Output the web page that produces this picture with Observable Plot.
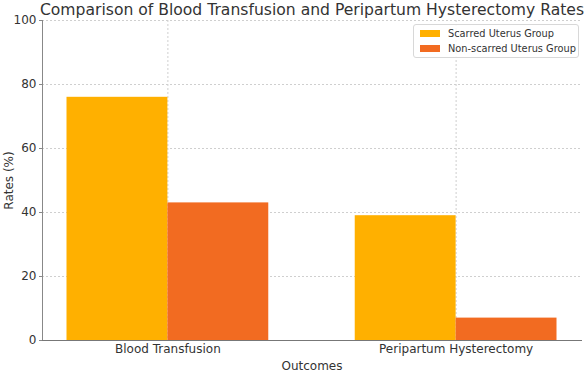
<!DOCTYPE html>
<html>
<head>
<meta charset="utf-8">
<script src="https://cdn.jsdelivr.net/npm/d3@7"></script>
<script src="https://cdn.jsdelivr.net/npm/@observablehq/plot@0.6"></script>
<style>
  html, body { margin: 0; padding: 0; background: #fff; }
  #wrap { position: relative; width: 584px; height: 372px; font-family: "DejaVu Sans", sans-serif; }
  #legend { position: absolute; left: 413px; top: 24px; width: 164px; height: 32px; border: 1px solid #d8d8d8; border-radius: 3px; background: rgba(255,255,255,0.85); font-size: 9.8px; color: #333; }
  .item { position: absolute; left: 6px; display: flex; align-items: center; white-space: nowrap; }
  .sw { width: 20px; height: 7px; margin-right: 8px; }
</style>
</head>
<body>
<div id="wrap"></div>
<script>
const outcomes = ["Blood Transfusion", "Peripartum Hysterectomy"];
const groups = ["Scarred Uterus Group", "Non-scarred Uterus Group"];
const scarred = [76, 39];
const nonScarred = [43, 7];
const colors = ["#ffb000", "#f26b21"];
const yTicks = [0, 20, 40, 60, 80, 100];
const title = "Comparison of Blood Transfusion and Peripartum Hysterectomy Rates";

const barW = 0.35;
const rows = [];
outcomes.forEach((o, i) => {
  rows.push({outcome: o, group: groups[0], x1: i - barW, x2: i, value: scarred[i]});
  rows.push({outcome: o, group: groups[1], x1: i, x2: i + barW, value: nonScarred[i]});
});

const chart = Plot.plot({
  width: 584,
  height: 372,
  marginTop: 20,
  marginBottom: 32,
  marginLeft: 42,
  marginRight: 3,
  style: {fontFamily: "DejaVu Sans, sans-serif", fontSize: "12px", color: "#333", background: "#fff", overflow: "visible"},
  x: {domain: [-0.435, 1.435]},
  y: {domain: [0, 100]},
  color: {domain: groups, range: colors},
  marks: [
    Plot.gridY(yTicks, {stroke: "#cfcfcf", strokeOpacity: 1, strokeDasharray: "2,2"}),
    Plot.gridX([0, 1], {stroke: "#cfcfcf", strokeOpacity: 1, strokeDasharray: "2,2"}),
    Plot.rectY(rows, {x1: "x1", x2: "x2", y1: 0, y2: "value", fill: "group"}),
    Plot.frame({anchor: "left", stroke: "#888"}),
    Plot.frame({anchor: "bottom", stroke: "#777"}),
    Plot.axisY(yTicks, {tickSize: 3, tickPadding: 3, fontSize: 12, stroke: "#888", label: "Rates (%)", labelAnchor: "center", labelArrow: "none", labelOffset: 38}),
    Plot.axisX([0, 1], {tickSize: 0, tickPadding: 4, fontSize: 12, tickFormat: i => outcomes[i], label: "Outcomes", labelAnchor: "center", labelArrow: "none", labelOffset: 29}),
    Plot.text([title], {frameAnchor: "top", text: d => d, dy: -11, fontSize: 15.6, fill: "#333", lineAnchor: "middle"})
  ]
});

const wrap = document.getElementById("wrap");
wrap.appendChild(chart);
const legend = document.createElement("div");
legend.id = "legend";
groups.forEach((g, i) => {
  const item = document.createElement("div");
  item.className = "item";
  item.style.top = (3 + i * 15) + "px";
  const sw = document.createElement("div");
  sw.className = "sw";
  sw.style.background = colors[i];
  const t = document.createElement("span");
  t.textContent = g;
  item.appendChild(sw);
  item.appendChild(t);
  legend.appendChild(item);
});
wrap.appendChild(legend);
</script>
</body>
</html>
